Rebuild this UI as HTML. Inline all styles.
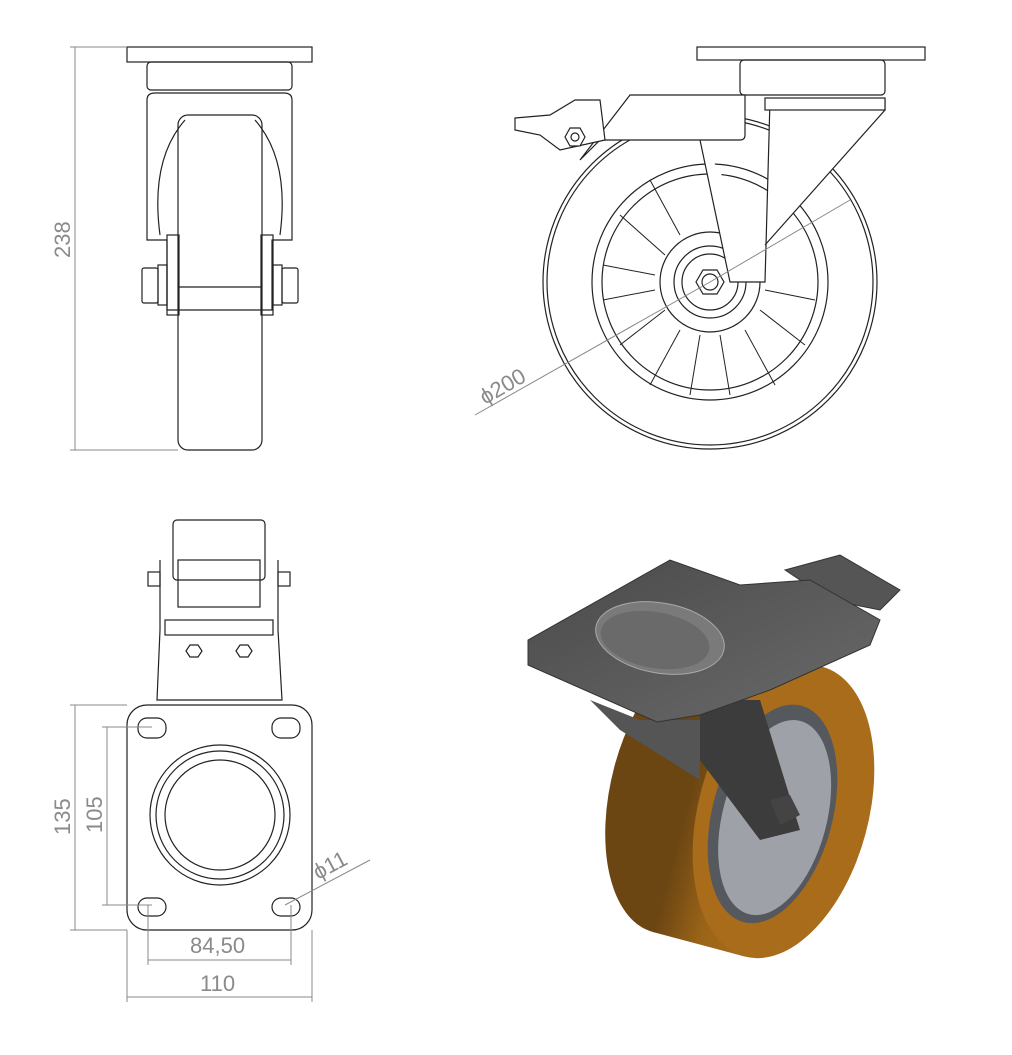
<!DOCTYPE html>
<html><head><meta charset="utf-8"><style>
html,body{margin:0;padding:0;background:#fff;}
svg{display:block;}
text{font-family:"Liberation Sans",sans-serif;fill:#8a8a8a;font-size:22px;}
</style></head><body>
<svg width="1012" height="1055" viewBox="0 0 1012 1055" xmlns="http://www.w3.org/2000/svg">
<defs>
<linearGradient id="wh" x1="0" x2="1" y1="0" y2="0"><stop offset="0" stop-color="#6b4512"/><stop offset="0.5" stop-color="#9a6418"/><stop offset="1" stop-color="#a86c1a"/></linearGradient>
<linearGradient id="pl" x1="0" x2="1" y1="0" y2="1"><stop offset="0" stop-color="#4a4a4a"/><stop offset="1" stop-color="#6a6a6a"/></linearGradient>
</defs>
<g fill="none" stroke="#222" stroke-width="1.2">
<!-- front view -->
<rect x="127" y="47" width="185" height="15"/>
<rect x="147" y="62" width="145" height="28" rx="4"/>
<path d="M147 100 Q147 93 155 93 L284 93 Q292 93 292 100 L292 240 L272 240 L272 310 L167 310 L167 240 L147 240 Z"/>
<path d="M160 235 Q150 160 185 120 M280 235 Q290 160 255 120"/>
<rect x="178" y="115" width="84" height="335" rx="10"/>
<line x1="178" y1="287" x2="262" y2="287"/>
<rect x="167" y="235" width="12" height="80"/><rect x="261" y="235" width="12" height="80"/>
<rect x="142" y="268" width="16" height="35" rx="2"/><rect x="158" y="265" width="9" height="40"/>
<rect x="282" y="268" width="16" height="35" rx="2"/><rect x="273" y="265" width="9" height="40"/>
<!-- side view -->
<rect x="697" y="47" width="228" height="13"/>
<rect x="740" y="60" width="145" height="35" rx="4"/>
<circle cx="710" cy="282" r="167"/>
<circle cx="710" cy="282" r="163"/>
<circle cx="710" cy="282" r="118"/>
<circle cx="710" cy="282" r="108"/>
<circle cx="710" cy="282" r="50"/>
<circle cx="710" cy="282" r="36"/>
<circle cx="710" cy="282" r="28"/>
<polygon points="696,282 703,270 717,270 724,282 717,294 703,294"/>
<circle cx="710" cy="282" r="8"/>
<g stroke-width="1">
<path d="M650 180 L680 235 M620 215 L665 255 M603 265 L655 275 M603 300 L655 290 M620 345 L665 310 M650 385 L680 330 M690 395 L700 335 M730 395 L720 335 M775 385 L745 330 M805 345 L760 310 M815 300 L765 290"/>
</g>
<path d="M580 160 L630 95 L745 95 L745 135 Q745 140 740 140 L600 140 Z" fill="#fff"/>
<path d="M700 140 L730 282 L765 282 L770 100 L885 100 L885 110 L765 245" fill="#fff"/>
<rect x="765" y="98" width="120" height="12" fill="#fff"/>
<path d="M515 118 L550 115 L575 100 L600 100 L605 140 L560 150 L540 135 L515 130 Z" fill="#fff"/>
<polygon points="565,137 570,128 580,128 585,137 580,146 570,146" fill="#fff"/>
<circle cx="575" cy="137" r="4"/>
<!-- bottom view -->
<rect x="173" y="520" width="92" height="60" rx="4"/>
<rect x="178" y="560" width="82" height="47"/>
<path d="M160 560 L160 630 L157 700 L282 700 L278 630 L278 560"/>
<rect x="165" y="620" width="108" height="15"/>
<rect x="148" y="572" width="12" height="14"/><rect x="278" y="572" width="12" height="14"/>
<polygon points="186,651 190,645 198,645 202,651 198,657 190,657"/>
<polygon points="236,651 240,645 248,645 252,651 248,657 240,657"/>
<rect x="127" y="705" width="185" height="225" rx="20"/>
<circle cx="220" cy="815" r="70"/><circle cx="220" cy="815" r="64"/><circle cx="220" cy="815" r="55"/>
<rect x="138" y="718" width="28" height="20" rx="9"/><rect x="272" y="718" width="28" height="20" rx="9"/>
<rect x="138" y="898" width="28" height="18" rx="9"/><rect x="272" y="898" width="28" height="18" rx="9"/>
</g>
<!-- dimension lines -->
<g stroke="#888" stroke-width="1" fill="none">
<line x1="75" y1="47" x2="75" y2="450"/><line x1="70" y1="47" x2="127" y2="47"/><line x1="70" y1="450" x2="178" y2="450"/>
<line x1="475" y1="415" x2="710" y2="282"/><line x1="710" y1="282" x2="850" y2="200"/>
<line x1="75" y1="705" x2="75" y2="930"/><line x1="70" y1="705" x2="127" y2="705"/><line x1="70" y1="930" x2="127" y2="930"/>
<line x1="107" y1="727" x2="107" y2="905"/><line x1="102" y1="727" x2="152" y2="727"/><line x1="102" y1="905" x2="152" y2="905"/>
<line x1="148" y1="960" x2="291" y2="960"/><line x1="148" y1="905" x2="148" y2="965"/><line x1="291" y1="905" x2="291" y2="965"/>
<line x1="127" y1="997" x2="312" y2="997"/><line x1="127" y1="930" x2="127" y2="1002"/><line x1="312" y1="930" x2="312" y2="1002"/>
<line x1="285" y1="905" x2="370" y2="860"/>
</g>
<text transform="translate(70,258) rotate(-90)">238</text>
<text transform="translate(485,405) rotate(-30)">ϕ200</text>
<text transform="translate(70,835) rotate(-90)">135</text>
<text transform="translate(102,833) rotate(-90)">105</text>
<text x="190" y="953">84,50</text>
<text x="200" y="991">110</text>
<text transform="translate(318,880) rotate(-28)">ϕ11</text>
<!-- 3D render -->
<g transform="rotate(15 740 800)">
<ellipse cx="690" cy="800" rx="80" ry="150" fill="#6b4512"/>
<rect x="690" y="650" width="95" height="300" fill="url(#wh)"/>
<ellipse cx="785" cy="800" rx="85" ry="150" fill="#a86c1a"/>
<ellipse cx="775" cy="805" rx="60" ry="112" fill="#55585c"/>
<ellipse cx="778" cy="808" rx="52" ry="100" fill="#9ea2a8"/>
</g>
<polygon points="700,700 760,700 800,830 760,840 700,760" fill="#3c3c3c"/>
<polygon points="590,700 640,720 700,720 700,780 620,730" fill="#555"/>
<polygon points="785,570 840,555 900,590 880,610 830,600" fill="#555" stroke="#333"/>
<polygon points="528,640 670,560 740,585 810,580 880,620 870,645 770,690 700,715 657,722 528,665" fill="url(#pl)" stroke="#333"/>
<ellipse cx="660" cy="638" rx="65" ry="35" fill="#7a7a7a" stroke="#aaa" transform="rotate(10 660 638)"/>
<ellipse cx="655" cy="640" rx="55" ry="28" fill="#6a6a6a" transform="rotate(10 655 640)"/>
<polygon points="770,800 790,795 800,815 780,825" fill="#444"/>
</svg>
</body></html>
